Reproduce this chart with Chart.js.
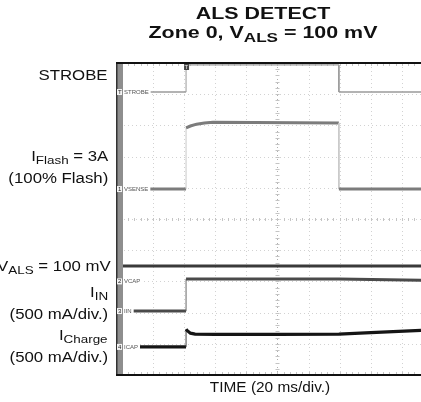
<!DOCTYPE html>
<html>
<head>
<meta charset="utf-8">
<script src="https://cdn.jsdelivr.net/npm/chart.js@4.4.1/dist/chart.umd.min.js"></script>
<style>
  body { margin: 0; width: 421px; height: 402px; overflow: hidden; background: #fff;
         font-family: "Liberation Sans", Arial, sans-serif; color: #111; }
  #wrap { position: relative; width: 421px; height: 402px; }
  canvas { position: absolute; left: 0; top: 0; }
  .t { position: absolute; white-space: nowrap; line-height: 1; }
  .title { font-weight: bold; font-size: 17px; left: 263px; transform: translateX(-50%) scaleX(1.26); }
  .lab { font-size: 14px; right: 313px; transform: scaleX(1.2); transform-origin: right center; }
  .xlab { font-size: 14px; left: 270px; transform: translateX(-50%) scaleX(1.1); }
  sub { font-size: 0.8em; vertical-align: -0.3em; line-height: 0; }
</style>
</head>
<body>
<div id="wrap">
  <canvas id="scope" width="421" height="402"></canvas>

  <div class="t title" style="top:5px">ALS DETECT</div>
  <div class="t title" style="top:24px">Zone 0, V<sub>ALS</sub> = 100 mV</div>

  <div class="t lab" style="top:68px">STROBE</div>
  <div class="t lab" style="top:149px">I<sub>Flash</sub> = 3A</div>
  <div class="t lab" style="top:171px">(100% Flash)</div>
  <div class="t lab" style="top:259px; right:310px">V<sub>ALS</sub> = 100 mV</div>
  <div class="t lab" style="top:285px">I<sub>IN</sub></div>
  <div class="t lab" style="top:307px">(500 mA/div.)</div>
  <div class="t lab" style="top:328px">I<sub>Charge</sub></div>
  <div class="t lab" style="top:350px">(500 mA/div.)</div>

  <div class="t xlab" style="top:380px">TIME (20 ms/div.)</div>
</div>

<script>
// time in ms (20 ms/div), amplitude in screen divisions (0 = bottom, 10 = top)
const gridX = [0, 20, 40, 60, 80, 100, 120, 140, 160, 180];
const gridY = [0, 1, 2, 3, 4, 5, 6, 7, 8, 9, 10];

const strobeT = [0.6, 41.2, 41.2, 139.5, 139.5, 192.3];
const strobeV = [9.07, 9.07, 9.94, 9.94, 9.07, 9.07];

const senseT = [0.6, 41.2, 41.2, 44, 48, 53, 58.5, 139.5, 139.5, 192.3];
const senseV = [5.96, 5.96, 7.92, 7.98, 8.04, 8.08, 8.1, 8.08, 5.96, 5.96];

const alsT = [0.6, 192.3];
const alsV = [3.49, 3.49];

const iinT = [0.6, 41.2, 41.2, 139.5, 192.3];
const iinV = [2.05, 2.05, 3.08, 3.08, 3.04];

const icapT = [0.6, 41.2, 41.2, 42, 44, 47, 60, 100, 139.5, 160, 192.3];
const icapV = [0.9, 0.9, 1.47, 1.42, 1.34, 1.31, 1.3, 1.3, 1.31, 1.36, 1.43];

// small channel tags drawn inside the screen
const tagNames = ['STROBE', 'VSENSE', 'VCAP', 'IIN', 'ICAP'];
const tagLevels = [9.07, 5.96, 3.0, 2.05, 0.9];
const tagMarks = ['T', '1', '2', '3', '4'];

const pts = (t, v) => t.map((x, i) => ({ x, y: v[i] }));

// fast edges look thin and faint on the scope
const isEdge = c => c.p0.parsed.x === c.p1.parsed.x;

const trace = (t, v, color, width, edgeColor) => ({
    data: pts(t, v),
    borderColor: color,
    borderWidth: width,
    pointRadius: 0,
    tension: 0,
    fill: false,
    segment: {
        borderWidth: c => isEdge(c) ? 1 : undefined,
        borderColor: c => isEdge(c) ? edgeColor : undefined
    }
});

// Grid, frame and tags of the scope screen
const scopePlugin = {
    id: 'scopeScreen',
    beforeDatasetsDraw(chart) {
        const { ctx, chartArea: a, scales: { x, y } } = chart;
        ctx.save();
        ctx.lineWidth = 1;
        ctx.setLineDash([1, 3]);
        ctx.strokeStyle = '#d2d2d2';
        gridX.forEach(v => {
            const px = Math.round(x.getPixelForValue(v)) + 0.5;
            ctx.beginPath(); ctx.moveTo(px, a.top); ctx.lineTo(px, a.bottom); ctx.stroke();
        });
        gridY.forEach(v => {
            const py = Math.round(y.getPixelForValue(v)) + 0.5;
            ctx.beginPath(); ctx.moveTo(a.left, py); ctx.lineTo(a.right, py); ctx.stroke();
        });

        // centre axes with minor ticks
        ctx.strokeStyle = '#b0b0b0';
        const cx = Math.round(x.getPixelForValue(100)) + 0.5;
        const cy = Math.round(y.getPixelForValue(5)) + 0.5;
        ctx.beginPath(); ctx.moveTo(cx, a.top); ctx.lineTo(cx, a.bottom); ctx.stroke();
        ctx.setLineDash([]);
        ctx.strokeStyle = '#c4c4c4';
        for (let d = 0; d <= 10; d += 0.2) {
            const py = Math.round(y.getPixelForValue(d)) + 0.5;
            ctx.beginPath(); ctx.moveTo(cx - 2, py); ctx.lineTo(cx + 2, py); ctx.stroke();
        }
        for (let t = 0; t <= 192; t += 4) {
            const px = Math.round(x.getPixelForValue(t)) + 0.5;
            ctx.beginPath(); ctx.moveTo(px, cy - 1.5); ctx.lineTo(px, cy + 1.5); ctx.stroke();
            ctx.beginPath(); ctx.moveTo(px, a.top); ctx.lineTo(px, a.top + 3); ctx.stroke();
            ctx.beginPath(); ctx.moveTo(px, a.bottom - 3); ctx.lineTo(px, a.bottom); ctx.stroke();
        }
        ctx.restore();
    },
    afterDatasetsDraw(chart) {
        const { ctx, chartArea: a, scales: { x, y } } = chart;
        ctx.save();
        // gray bar on the left edge
        ctx.fillStyle = '#8e8e8e';
        ctx.fillRect(a.left, a.top, 7, a.bottom - a.top);
        ctx.fillStyle = '#333';
        ctx.fillRect(a.left, a.top, 1.5, a.bottom - a.top);

        // frame
        ctx.fillStyle = '#111';
        ctx.fillRect(a.left, a.top - 1, a.right - a.left, 2);
        ctx.fillRect(a.left, a.bottom - 1, a.right - a.left, 2);

        // channel tags
        ctx.font = '6px "Liberation Sans", Arial, sans-serif';
        ctx.textBaseline = 'middle';
        tagNames.forEach((name, i) => {
            const py = y.getPixelForValue(tagLevels[i]);
            const w = ctx.measureText(name).width;
            ctx.fillStyle = '#fff';
            ctx.fillRect(a.left + 7, py - 4, w + 3, 8);
            ctx.fillStyle = '#555';
            ctx.fillText(name, a.left + 8, py);
            ctx.fillStyle = '#f4f4f4';
            ctx.fillRect(a.left + 1, py - 3, 5, 6);
            ctx.fillStyle = '#222';
            ctx.fillText(tagMarks[i], a.left + 2, py);
        });

        // trigger marker
        const tx = x.getPixelForValue(41.2);
        ctx.fillStyle = '#444';
        ctx.fillRect(tx - 2, a.top + 1, 5, 6);
        ctx.fillStyle = '#eee';
        ctx.fillText('T', tx - 1.5, a.top + 4);
        ctx.restore();
    }
};

new Chart(document.getElementById('scope'), {
    type: 'line',
    data: {
        datasets: [
            trace(strobeT, strobeV, '#9a9a9a', 1.3, '#9a9a9a'),
            trace(senseT, senseV, '#7c7c7c', 3, '#c8c8c8'),
            trace(alsT, alsV, '#3a3a3a', 3, '#3a3a3a'),
            trace(iinT, iinV, '#4a4a4a', 3, '#666'),
            trace(icapT, icapV, '#151515', 3.2, '#444')
        ]
    },
    options: {
        responsive: false,
        animation: false,
        events: [],
        layout: { padding: { left: 116, top: 63, right: 0, bottom: 27 } },
        plugins: { legend: { display: false }, tooltip: { enabled: false }, title: { display: false } },
        scales: {
            x: { type: 'linear', min: -3.86, max: 192.3, display: false },
            y: { type: 'linear', min: 0, max: 10, display: false }
        }
    },
    plugins: [scopePlugin]
});
</script>
</body>
</html>
